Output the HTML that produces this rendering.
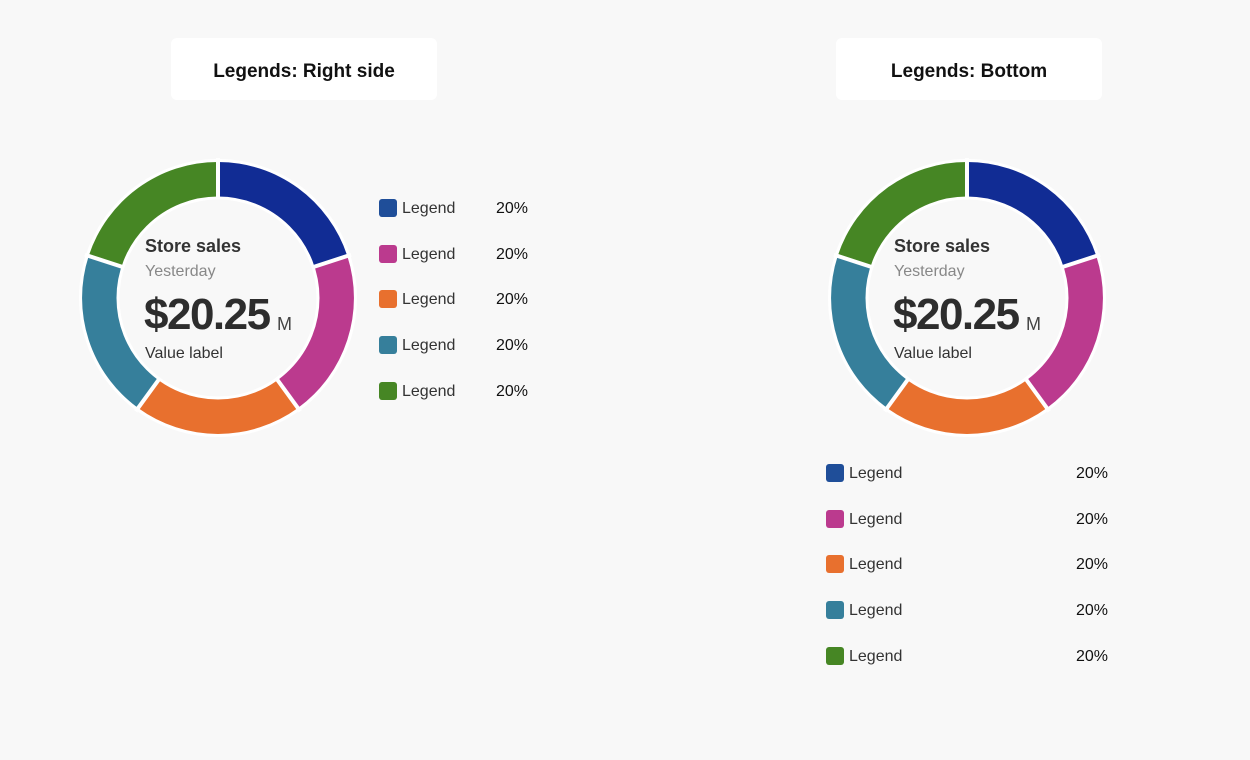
<!DOCTYPE html>
<html><head><meta charset="utf-8"><style>
body{margin:0;width:1250px;height:760px;background:#f8f8f8;font-family:"Liberation Sans",sans-serif;position:relative;overflow:hidden}
.box{position:absolute;top:38px;height:62px;width:266px;background:#fff;border-radius:6px;font-weight:bold;font-size:19px;color:#111;text-align:center;line-height:68px}
.t{position:absolute;white-space:nowrap}
.sq{position:absolute;width:18px;height:18px;border-radius:3px}
.lg{position:absolute;font-size:16px;color:#333}
</style></head><body>
<div class="box" style="left:171px">Legends: Right side</div>
<div class="box" style="left:836px">Legends: Bottom</div>
<svg width="1250" height="760" style="position:absolute;left:0;top:0">
<defs>
<g id="d">
<circle r="139" fill="#fff"/>
<path d="M0,-136 A136,136 0 0 1 129.3,-42 L96.1,-31.2 A101,101 0 0 0 0,-101Z" fill="#112c94"/>
<path d="M129.3,-42 A136,136 0 0 1 79.9,110 L59.4,81.7 A101,101 0 0 0 96.1,-31.2Z" fill="#bb3a8e"/>
<path d="M79.9,110 A136,136 0 0 1 -79.9,110 L-59.4,81.7 A101,101 0 0 0 59.4,81.7Z" fill="#e8702e"/>
<path d="M-79.9,110 A136,136 0 0 1 -129.3,-42 L-96.1,-31.2 A101,101 0 0 0 -59.4,81.7Z" fill="#367f9b"/>
<path d="M-129.3,-42 A136,136 0 0 1 0,-136 L0,-101 A101,101 0 0 0 -96.1,-31.2Z" fill="#468624"/>
<g stroke="#fff" stroke-width="4">
<line x1="0" y1="-95" x2="0" y2="-140"/>
<line x1="90.4" y1="-29.4" x2="133.1" y2="-43.3"/>
<line x1="55.8" y1="76.9" x2="82.3" y2="113.3"/>
<line x1="-55.8" y1="76.9" x2="-82.3" y2="113.3"/>
<line x1="-90.4" y1="-29.4" x2="-133.1" y2="-43.3"/>
</g>
<circle r="100" fill="#f8f8f8" stroke="#fff" stroke-width="3"/>
</g>
</defs>
<use href="#d" x="218" y="298"/>
<use href="#d" x="967" y="298"/>
</svg>
<script>
function center(x){
 var h='<div class="t" style="left:'+x+'px;top:236px;font-size:18px;font-weight:bold;color:#333">Store sales</div>'+
 '<div class="t" style="left:'+x+'px;top:263px;font-size:16px;color:#888">Yesterday</div>'+
 '<div class="t" style="left:'+(x-1)+'px;top:290px;font-size:44px;font-weight:bold;color:#2d2d2d;letter-spacing:-1.5px">$20.25</div>'+
 '<div class="t" style="left:'+(x+132)+'px;top:314px;font-size:18px;color:#444">M</div>'+
 '<div class="t" style="left:'+x+'px;top:345px;font-size:16px;color:#333">Value label</div>';
 document.body.insertAdjacentHTML('beforeend',h);
}
center(145);center(894);
var cols=['#1f4e99','#bb3a8e','#e8702e','#367f9b','#468624'];
for(var i=0;i<5;i++){
 var y=199+i*45.7;
 document.body.insertAdjacentHTML('beforeend','<div class="sq" style="left:379px;top:'+y+'px;background:'+cols[i]+'"></div><div class="lg" style="left:402px;top:'+(y+1)+'px">Legend</div><div class="lg" style="left:496px;top:'+(y+1)+'px;color:#111">20%</div>');
 var y2=464+i*45.7;
 document.body.insertAdjacentHTML('beforeend','<div class="sq" style="left:826px;top:'+y2+'px;background:'+cols[i]+'"></div><div class="lg" style="left:849px;top:'+(y2+1)+'px">Legend</div><div class="lg" style="left:1076px;top:'+(y2+1)+'px;color:#111">20%</div>');
}
</script>
</body></html>
